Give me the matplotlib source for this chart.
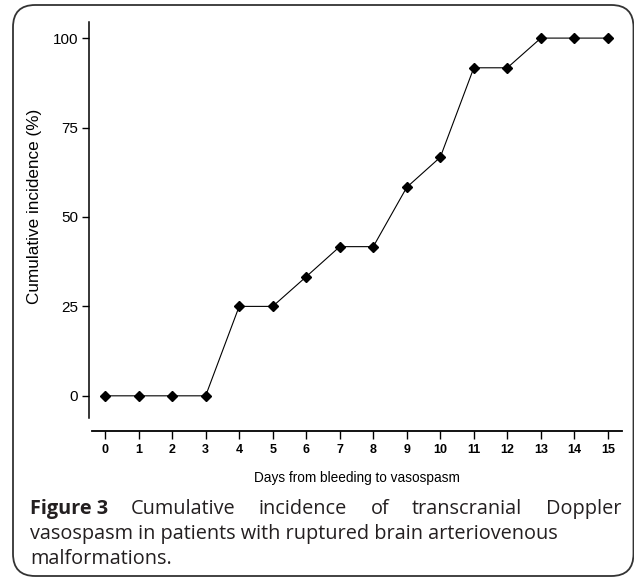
import numpy as np
import matplotlib

matplotlib.use("Agg")
import matplotlib.pyplot as plt
from matplotlib.patches import FancyBboxPatch

days = list(range(16))
incidence = [0, 0, 0, 0, 25, 25, 33.3, 41.7, 41.7, 58.3, 66.7, 91.7, 91.7, 100, 100, 100]
yticks = [0, 25, 50, 75, 100]

XLABEL = "Days from bleeding to vasospasm"
YLABEL = "Cumulative incidence (%)"
CAP_BOLD = "Figure 3"
CAP_LINE1 = "Cumulative incidence of transcranial Doppler"
CAP_LINE2 = "vasospasm in patients with ruptured brain arteriovenous"
CAP_LINE3 = "malformations."

W, H = 634, 579
fig = plt.figure(figsize=(W / 100, H / 100), dpi=100)

# rounded frame around the figure (right edge sits at the image border)
frame = FancyBboxPatch((13 / W, 3 / H), (633.5 - 13) / W, (H - 8) / H,
                       boxstyle="round,pad=0,rounding_size=0.035",
                       transform=fig.transFigure, fill=False, lw=1.3,
                       ec="#333333", mutation_aspect=W / H)
fig.add_artist(frame)

ax = fig.add_axes([92 / W, 1 - 418 / H, (622 - 92) / W, (418 - 22) / H])
ax.plot(days, incidence, color="black", lw=0.8, marker="D", ms=5.4, mfc="black", mec="black")
ax.set_xlim(-0.39, 15.42)
ax.set_ylim(-6.2, 104.5)
ax.set_xticks(days)
ax.set_yticks(yticks)
for s in ("top", "right"):
    ax.spines[s].set_visible(False)
ax.spines["left"].set_position(("outward", 2))
ax.spines["bottom"].set_position(("outward", 9))
ax.spines["left"].set_linewidth(1.1)
ax.spines["bottom"].set_linewidth(1.3)
ax.tick_params(axis="y", length=5, width=1, pad=3, labelsize=11)
ax.tick_params(axis="x", length=5.5, width=1, pad=4, labelsize=9)
for lab in ax.get_yticklabels():
    lab.set_fontfamily("Liberation Sans")
for lab in ax.get_xticklabels():
    lab.set_fontfamily("Liberation Sans")
    lab.set_fontweight("bold")
ax.set_xlabel(XLABEL, family="Liberation Sans", fontsize=9.8, labelpad=11)
ax.set_ylabel(YLABEL, family="Liberation Sans", fontsize=12.3)
ax.yaxis.set_label_coords(-50 / (622 - 92), 0.535)

# caption (first line justified)
cap_kw = dict(family="Open Sans", fontsize=14.3, color="#231f20", va="baseline")
left_px, right_px = 30, 621
renderer = fig.canvas.get_renderer()
words = [(CAP_BOLD, "bold")] + [(w, "normal") for w in CAP_LINE1.split()]
texts = []
for w, wt in words:
    t = fig.text(0, 1 - 514 / H, w, fontweight=wt, **cap_kw)
    texts.append(t)
widths = [t.get_window_extent(renderer).width for t in texts]
gap = (right_px - left_px - sum(widths)) / (len(texts) - 1)
x = left_px
for t, wd in zip(texts, widths):
    t.set_x(x / W)
    x += wd + gap
fig.text(left_px / W, 1 - 539 / H, CAP_LINE2, **cap_kw)
fig.text(left_px / W, 1 - 564 / H, CAP_LINE3, **cap_kw)

fig.savefig("out.png", dpi=100)
